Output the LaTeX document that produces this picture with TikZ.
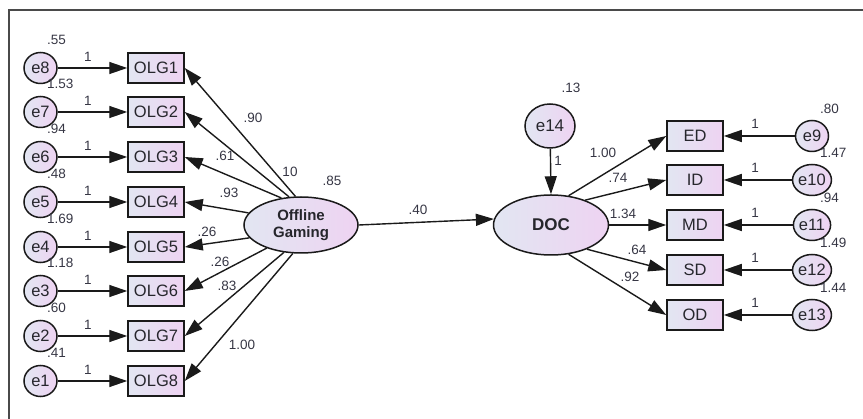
\documentclass[tikz,border=0pt]{standalone}
\usepackage{fontspec}
\setmainfont{Liberation Sans}
\usetikzlibrary{arrows.meta,shapes.geometric}
\definecolor{lncol}{HTML}{1A1A1A}
\definecolor{shadeL}{HTML}{E2E6F2}
\definecolor{shadeR}{HTML}{EED3F2}
\definecolor{numcol}{HTML}{363644}
\definecolor{txtcol}{HTML}{26262C}
\definecolor{framecol}{HTML}{4A4A4A}
\begin{document}
\begin{tikzpicture}[x=1pt,y=-1pt,
  obs/.style={draw=lncol, line width=1.5pt, rectangle, minimum width=56pt, minimum height=30pt, inner sep=0pt,
    left color=shadeL, right color=shadeR, text=txtcol, font=\fontsize{16.5}{16.5}\selectfont},
  err/.style={draw=lncol, line width=1.5pt, ellipse, minimum width=33pt, minimum height=31pt, inner sep=0pt,
    left color=shadeL, right color=shadeR, text=txtcol, font=\fontsize{16.5}{16.5}\selectfont},
  lat/.style={draw=lncol, line width=1.5pt, ellipse, minimum width=114pt, minimum height=56pt, inner sep=0pt,
    left color=shadeL, right color=shadeR, text=txtcol, align=center},
  num/.style={font=\fontsize{13.5}{13.5}\selectfont, text=numcol, inner sep=0pt},
  reg/.style={draw=lncol, line width=1.4pt, -{Triangle[length=18pt,width=12pt]}}
]
\useasboundingbox (0,0) rectangle (863,419);
\draw[framecol, line width=2pt] (8.5,419) -- (8.5,10.5) -- (863,10.5);

% latent variables
\node[lat, font=\bfseries\fontsize{15}{17}\selectfont] (og) at (301,225) {Offline\\Gaming};
\node[lat, minimum width=115pt, minimum height=60pt, font=\bfseries\fontsize{17}{17}\selectfont] (doc) at (551,225) {DOC};
\node[err, minimum width=50pt, minimum height=44pt, font=\fontsize{17}{17}\selectfont] (e14) at (550,126) {e14};

% left indicators
\foreach \i/\y/\v in {1/68/.55, 2/112/1.53, 3/157/.94, 4/202/.48, 5/247/1.69, 6/291/1.18, 7/336/.60, 8/381/.41}{
  \pgfmathtruncatemacro\e{9-\i}
  \node[err] (e\e) at (40.5,\y) {e\e};
  \node[obs] (olg\i) at (156,\y) {OLG\i};
  \draw[reg] (e\e) -- (olg\i);
  \node[num, anchor=west] (v\e) at (47,{\y-28}) {\v};
  \node[num] (w\e) at (88,{\y-11}) {1};
}

% loadings Offline Gaming -> OLG
\foreach \i/\a in {1/101, 2/113, 3/126, 4/167, 5/194, 6/214, 7/238, 8/254}{
  \draw[reg] (og.\a) -- (olg\i.east);
}
\node[num] (l1) at (253,118) {.90};
\node[num] (l2) at (225,156) {.61};
\node[num] (l3) at (290,172) {10};
\node[num] (l4) at (229,193) {.93};
\node[num] (l5) at (207,232) {.26};
\node[num] (l6) at (220,262) {.26};
\node[num] (l7) at (227,286) {.83};
\node[num] (l8) at (242,345) {1.00};
\node[num] (vog) at (332,181) {.85};

% structural path
\draw[reg] (og.east) -- (doc.174);
\node[num] (p1) at (418,210) {.40};

% e14 -> DOC
\draw[reg] (e14) -- (doc.north);
\node[num] (v14) at (571,88) {.13};
\node[num] (w14) at (558,161) {1};

% right indicators
\foreach \n/\y/\a/\v/\e in {ED/136/59/.80/9, ID/180/36/1.47/10, MD/225/0/.94/11, SD/270/-34/1.49/12, OD/315/-59/1.44/13}{
  \node[obs] (\n) at (695,\y) {\n};
  \node[err] (e\e) at (812,\y) {e\e};
  \draw[reg] (e\e) -- (\n.east);
  \draw[reg] (doc.\a) -- (\n.west);
  \node[num, anchor=west] (v\e) at (820,{\y-27}) {\v};
  \node[num] (w\e) at (755,{\y-12}) {1};
}
\node[num] (r1) at (603,153) {1.00};
\node[num] (r2) at (618,178) {.74};
\node[num] (r3) at (623,214) {1.34};
\node[num] (r4) at (637,250) {.64};
\node[num] (r5) at (630,277) {.92};
\end{tikzpicture}
\end{document}
